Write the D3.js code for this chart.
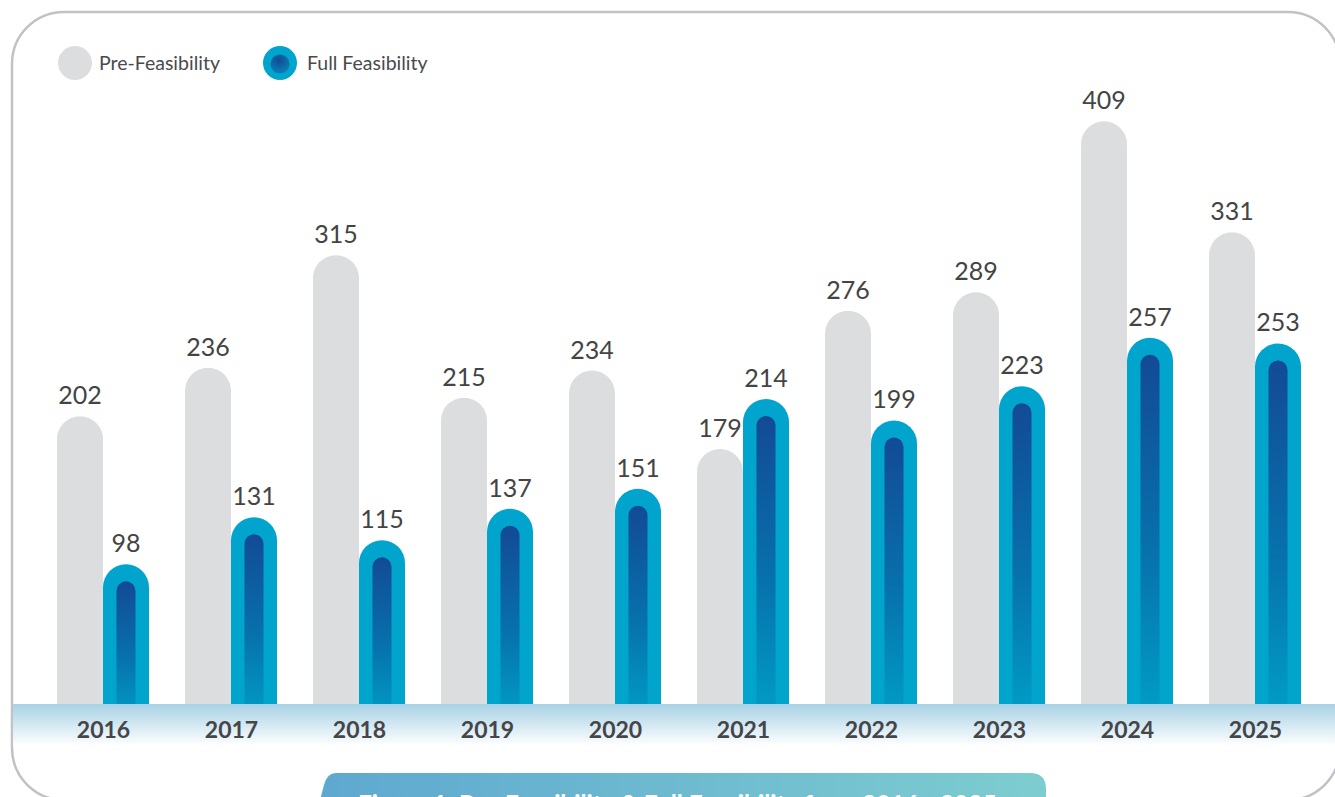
<!DOCTYPE html>
<html>
<head>
<meta charset="utf-8">
<script src="https://cdn.jsdelivr.net/npm/d3@7"></script>
<style>
  html, body { margin: 0; padding: 0; background: #fff; overflow: hidden; }
  svg { display: block; font-family: Lato, "Open Sans", sans-serif; }
</style>
</head>
<body>
<svg width="1335" height="797"></svg>
<script>
const years = ["2016", "2017", "2018", "2019", "2020", "2021", "2022", "2023", "2024", "2025"];
const preFeasibility = [202, 236, 315, 215, 234, 179, 276, 289, 409, 331];
const fullFeasibility = [98, 131, 115, 137, 151, 214, 199, 223, 257, 253];
const seriesNames = ["Pre-Feasibility", "Full Feasibility"];
const caption = "Figure 1: Pre-Feasibility & Full Feasibility from 2016 - 2025";

const svg = d3.select("svg");
const base = 704;

const defs = svg.append("defs");
const inner = defs.append("linearGradient").attr("id", "inner").attr("x1", 0).attr("y1", 0).attr("x2", 0).attr("y2", 1);
inner.append("stop").attr("offset", "0%").attr("stop-color", "#134a96");
inner.append("stop").attr("offset", "55%").attr("stop-color", "#0673ad");
inner.append("stop").attr("offset", "100%").attr("stop-color", "#00a0c8");

const band = defs.append("linearGradient").attr("id", "band").attr("x1", 0).attr("y1", 0).attr("x2", 0).attr("y2", 1);
band.append("stop").attr("offset", "0%").attr("stop-color", "#a8d2e5");
band.append("stop").attr("offset", "100%").attr("stop-color", "#ffffff");

const cap = defs.append("linearGradient").attr("id", "cap");
cap.append("stop").attr("offset", "0%").attr("stop-color", "#5ea8d0");
cap.append("stop").attr("offset", "100%").attr("stop-color", "#7dcdd0");

const legendDot = defs.append("radialGradient").attr("id", "ldot").attr("cx", "45%").attr("cy", "30%").attr("r", "70%");
legendDot.append("stop").attr("offset", "0%").attr("stop-color", "#144a95");
legendDot.append("stop").attr("offset", "100%").attr("stop-color", "#0682b8");

// card outline
svg.append("rect")
  .attr("x", 12).attr("y", 12).attr("width", 1328).attr("height", 788)
  .attr("rx", 52).attr("fill", "#fff")
  .attr("stroke", "#c1c2c6").attr("stroke-width", 2.5);

const x = d3.scaleBand().domain(years).range([57, 57 + 128 * years.length]).paddingInner(0).paddingOuter(0);
const y = d3.scaleLinear().domain([0, 400]).range([base, base - 400 * 1.425]);
const bw = 46;

const g = svg.append("g");
const groups = g.selectAll(".yr").data(years).enter().append("g").attr("class", "yr");

// pre-feasibility bars
groups.append("rect")
  .attr("x", d => x(d))
  .attr("y", (d, i) => y(preFeasibility[i]))
  .attr("width", bw)
  .attr("height", (d, i) => base - y(preFeasibility[i]) + 30)
  .attr("rx", bw / 2)
  .attr("fill", "#dcdddf");

// full feasibility bars
groups.append("rect")
  .attr("x", d => x(d) + bw)
  .attr("y", (d, i) => y(fullFeasibility[i]))
  .attr("width", bw)
  .attr("height", (d, i) => base - y(fullFeasibility[i]) + 30)
  .attr("rx", bw / 2)
  .attr("fill", "#00a4cc");

groups.append("rect")
  .attr("x", d => x(d) + bw + 13.5)
  .attr("y", (d, i) => y(fullFeasibility[i]) + 17)
  .attr("width", 19)
  .attr("height", (d, i) => base - y(fullFeasibility[i]) - 17 + 20)
  .attr("rx", 9.5)
  .attr("fill", "url(#inner)");

// value labels
groups.append("text")
  .attr("x", d => x(d) + bw / 2)
  .attr("y", (d, i) => y(preFeasibility[i]) - 12)
  .attr("text-anchor", "middle")
  .attr("font-size", 25).attr("fill", "#444")
  .text((d, i) => preFeasibility[i]);

groups.append("text")
  .attr("x", d => x(d) + bw * 1.5)
  .attr("y", (d, i) => y(fullFeasibility[i]) - 12)
  .attr("text-anchor", "middle")
  .attr("font-size", 25).attr("fill", "#444")
  .text((d, i) => fullFeasibility[i]);

// axis band
svg.append("rect")
  .attr("x", 13).attr("y", base).attr("width", 1322).attr("height", 42)
  .attr("fill", "url(#band)");

const axis = d3.axisBottom(d3.scalePoint().domain(years).range([x(years[0]) + bw, x(years[9]) + bw]))
  .tickSize(0).tickPadding(0);
svg.append("g")
  .attr("transform", `translate(0,${base})`)
  .call(axis)
  .call(a => a.select(".domain").remove())
  .selectAll("text")
  .attr("dy", null).attr("y", 34)
  .attr("font-family", "Lato, 'Open Sans', sans-serif")
  .attr("font-size", 23).attr("font-weight", 700).attr("fill", "#464649");

// legend
const legend = svg.append("g");
legend.append("circle").attr("cx", 75).attr("cy", 63).attr("r", 17).attr("fill", "#dcdddf");
legend.append("text").attr("x", 99).attr("y", 70).attr("font-size", 19.5).attr("fill", "#4a4a4d").text(seriesNames[0]);
legend.append("circle").attr("cx", 280).attr("cy", 63).attr("r", 17).attr("fill", "#00a4cc");
legend.append("circle").attr("cx", 280).attr("cy", 64).attr("r", 9.5).attr("fill", "url(#ldot)");
legend.append("text").attr("x", 307).attr("y", 70).attr("font-size", 19.5).attr("fill", "#4a4a4d").text(seriesNames[1]);

// caption pill (cut off at bottom, as in the source)
svg.append("path")
  .attr("d", "M336,773 L1030,773 Q1046,773 1046,789 L1046,830 L312,830 L324,785 Q327,773 336,773 Z")
  .attr("fill", "url(#cap)");
svg.append("text")
  .attr("x", 358).attr("y", 813)
  .attr("font-size", 24.5).attr("font-weight", 700).attr("fill", "#fff")
  .text(caption);
</script>
</body>
</html>
